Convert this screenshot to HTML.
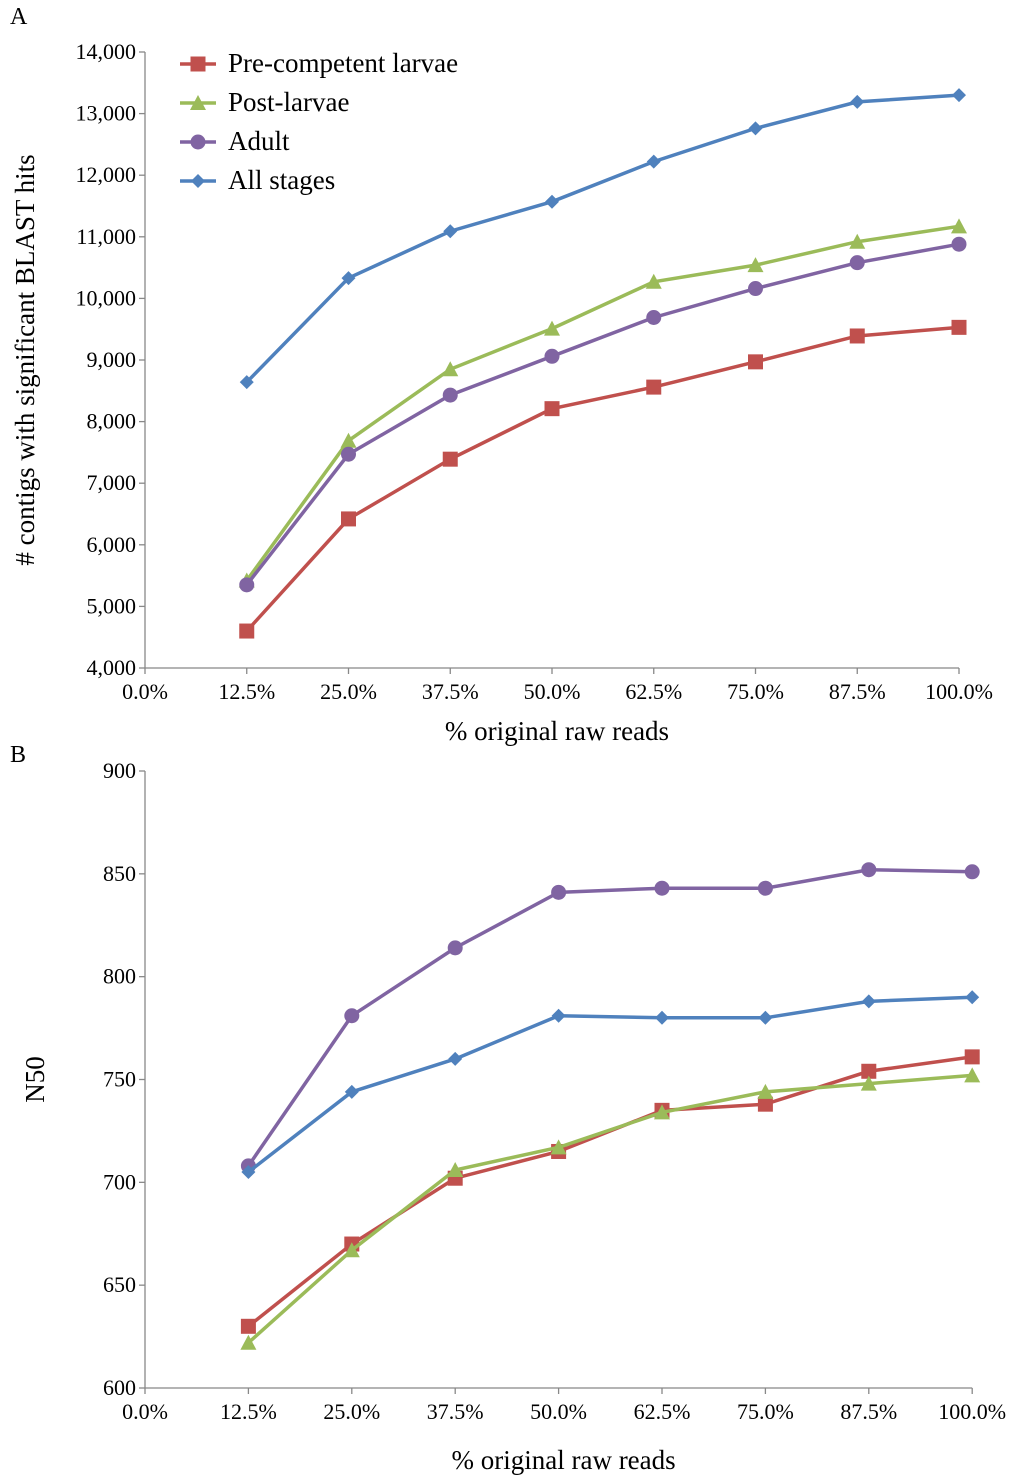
<!DOCTYPE html>
<html><head><meta charset="utf-8"><style>
body{margin:0;background:#fff;}
svg{display:block;font-family:"Liberation Serif",serif;}
</style></head><body>
<svg id="c" width="1024" height="1482"></svg>
<script>
const categories=["0.0%","12.5%","25.0%","37.5%","50.0%","62.5%","75.0%","87.5%","100.0%"];
const seriesNames=["Pre-competent larvae","Post-larvae","Adult","All stages"];
const colors=["#C0504D","#9BBB59","#8064A2","#4F81BD"];
const markers=["square","triangle","circle","diamond"];
const aRed=[4600,6420,7390,8210,8560,8970,9390,9530];
const aGreen=[5420,7690,8850,9510,10270,10540,10920,11170];
const aPurple=[5350,7470,8430,9060,9690,10160,10580,10880];
const aBlue=[8640,10330,11090,11570,12220,12760,13190,13300];
const bRed=[630,670,702,715,735,738,754,761];
const bGreen=[622,667,706,717,734,744,748,752];
const bPurple=[708,781,814,841,843,843,852,851];
const bBlue=[705,744,760,781,780,780,788,790];
const aTicks=[4000,5000,6000,7000,8000,9000,10000,11000,12000,13000,14000];
const bTicks=[600,650,700,750,800,850,900];

const svg=document.getElementById('c');
const NS="http://www.w3.org/2000/svg";
function mk(t,a,p){const e=document.createElementNS(NS,t);for(const k in a)e.setAttribute(k,a[k]);(p||svg).appendChild(e);return e;}
function fmt(v){return v>=1000?v.toLocaleString('en-US'):String(v);}
function marker(g,type,x,y,col){
  let e;
  if(type==="square")e=mk('rect',{x:x-7.5,y:y-7.5,width:15,height:15,fill:col},g);
  else if(type==="triangle")e=mk('polygon',{points:`${x},${y-8} ${x+8},${y+7} ${x-8},${y+7}`,fill:col},g);
  else if(type==="circle")e=mk('circle',{cx:x,cy:y,r:7.5,fill:col},g);
  else e=mk('polygon',{points:`${x},${y-7} ${x+7},${y} ${x},${y+7} ${x-7},${y}`,fill:col},g);
  
  
}
function panel(o){
  const g=mk('g',{});
  
  
  const X=i=>o.x0+i*o.step;
  const Y=v=>o.yb-(v-o.vmin)/(o.vmax-o.vmin)*(o.yb-o.yt);
  const xEnd=X(8);
  const ya=mk('line',{x1:o.x0,y1:o.yt,x2:o.x0,y2:o.yb,stroke:'#888','stroke-width':1.3},g);
  
  const xa=mk('line',{x1:o.x0,y1:o.yb,x2:xEnd,y2:o.yb,stroke:'#888','stroke-width':1.3},g);
  
  o.ticks.forEach(v=>{
    mk('line',{x1:o.x0-6,y1:Y(v),x2:o.x0,y2:Y(v),stroke:'#888','stroke-width':1.3},g);
    const t=mk('text',{x:o.x0-9,y:Y(v)+7,'text-anchor':'end','font-size':22,fill:'#000'},g);
    t.textContent=fmt(v);
    
  });
  categories.forEach((c,i)=>{
    mk('line',{x1:X(i),y1:o.yb,x2:X(i),y2:o.yb+6,stroke:'#888','stroke-width':1.3},g);
    const t=mk('text',{x:X(i),y:o.yb+31,'text-anchor':'middle','font-size':22,fill:'#000'},g);
    t.textContent=c;
    
  });
  const xt=mk('text',{x:(o.x0+xEnd)/2+5,y:o.xtY,'text-anchor':'middle','font-size':27,fill:'#000'},g);
  xt.textContent='% original raw reads';
  
  const yt=mk('text',{x:0,y:0,'text-anchor':'middle','font-size':27,fill:'#000',transform:`translate(${o.ytX},${(o.yt+o.yb)/2}) rotate(-90)`},g);
  yt.textContent=o.ytitle;
  
  const pl=mk('text',{x:10,y:o.labelY,'font-size':24,fill:'#000'},g);
  pl.textContent=o.label;
  
  o.series.forEach((s,k)=>{
    const sg=mk('g',{},g);
    
    
    const pts=s.map((v,i)=>X(i+1)+','+Y(v)).join(' ');
    mk('polyline',{points:pts,fill:'none',stroke:colors[k],'stroke-width':3.5},sg);
    s.forEach((v,i)=>marker(sg,markers[k],X(i+1),Y(v),colors[k]));
  });
  if(o.legend){
    const lg=mk('g',{},g);
    
    
    seriesNames.forEach((n,k)=>{
      const y=64+k*39;
      const eg=mk('g',{},lg);
      
      
      mk('line',{x1:180,y1:y,x2:216,y2:y,stroke:colors[k],'stroke-width':3.5},eg);
      marker(eg,markers[k],198,y,colors[k]);
      const t=mk('text',{x:228,y:y+8,'font-size':27,fill:'#000'},eg);
      t.textContent=n;
    });
  }
}
panel({name:'panel-a',x0:145,step:101.75,yt:52,yb:668,vmin:4000,vmax:14000,ticks:aTicks,
  series:[aRed,aGreen,aPurple,aBlue],xtY:740,ytX:34,ytitle:'# contigs with significant BLAST hits',label:'A',labelY:24,legend:true});
panel({name:'panel-b',x0:145,step:103.4,yt:771,yb:1388,vmin:600,vmax:900,ticks:bTicks,
  series:[bRed,bGreen,bPurple,bBlue],xtY:1469,ytX:44,ytitle:'N50',label:'B',labelY:762,legend:false});
</script>
</body></html>
